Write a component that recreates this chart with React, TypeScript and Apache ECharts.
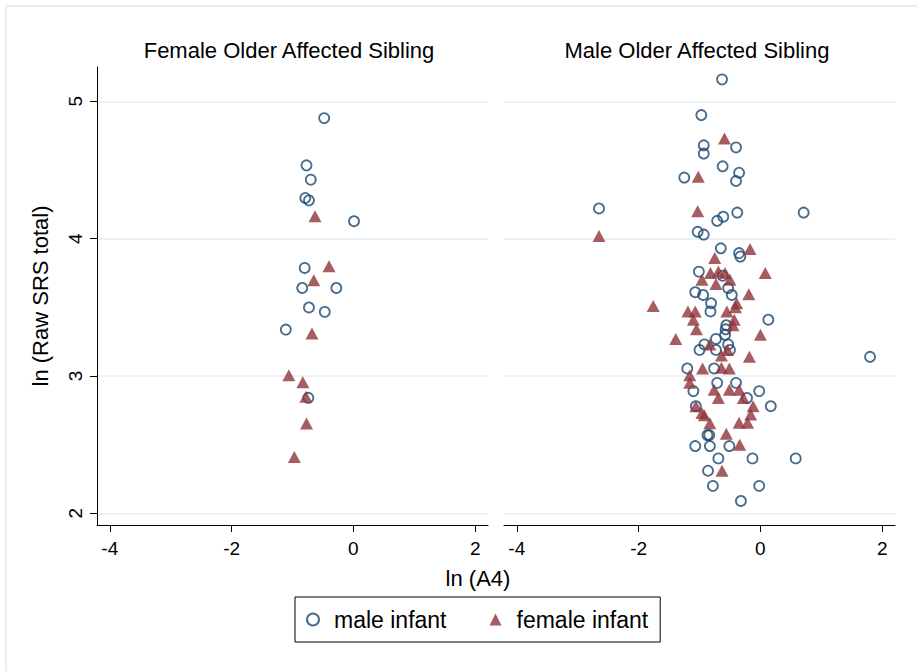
import React, { useEffect, useRef } from 'react';
import * as echarts from 'echarts';

const xTicks = [-4, -2, 0, 2];
const yTicks = [2, 3, 4, 5];
const panelTitles = ['Female Older Affected Sibling', 'Male Older Affected Sibling'];
const seriesNames = ['male infant', 'female infant'];
const xTitle = 'ln (A4)';
const yTitle = 'ln (Raw SRS total)';

// Left panel: Female Older Affected Sibling
const leftMaleX = [-0.48, -0.77, -0.70, -0.79, -0.73, 0.01, -0.80, -0.84, -0.28, -0.73, -0.47, -1.11, -0.74];
const leftMaleY = [4.878, 4.534, 4.43, 4.296, 4.279, 4.127, 3.787, 3.641, 3.641, 3.499, 3.467, 3.338, 2.841];
const leftFemaleX = [-0.63, -0.40, -0.65, -0.68, -1.06, -0.83, -0.78, -0.77, -0.97];
const leftFemaleY = [4.163, 3.799, 3.697, 3.309, 3.006, 2.955, 2.848, 2.654, 2.411];

// Right panel: Male Older Affected Sibling
const rightMaleX = [
  -0.63, -0.97, -0.93, -0.93, -0.40, -0.62, -0.35, -0.40, -1.25, -2.65,
  -0.71, -0.61, -0.38, 0.71, -1.03, -0.93, -0.65, -0.35, -0.33, -1.01,
  -0.62, -1.07, -0.94, -0.53, -0.47, -0.81, -0.82, 0.13, -0.56, -0.57,
  -0.58, -0.73, -0.92, -0.53, -1.00, -0.73, -0.50, 1.80, -1.20, -0.76,
  -0.71, -0.40, -1.10, -0.02, -0.22, -1.06, 0.17, -0.87, -0.84, -1.07,
  -0.83, -0.51, -0.69, -0.13, 0.58, -0.86, -0.78, -0.02, -0.32,
];
const rightMaleY = [
  5.16, 4.90, 4.68, 4.62, 4.665, 4.527, 4.48, 4.42, 4.445, 4.22,
  4.13, 4.16, 4.19, 4.19, 4.05, 4.03, 3.93, 3.895, 3.87, 3.76,
  3.73, 3.61, 3.59, 3.64, 3.59, 3.53, 3.47, 3.41, 3.37, 3.34,
  3.30, 3.27, 3.23, 3.23, 3.19, 3.19, 3.19, 3.14, 3.055, 3.055,
  2.95, 2.95, 2.89, 2.89, 2.84, 2.78, 2.78, 2.57, 2.57, 2.49,
  2.49, 2.49, 2.40, 2.40, 2.40, 2.31, 2.20, 2.20, 2.09,
];
const rightFemaleX = [
  -0.59, -1.02, -1.03, -2.65, -0.17, -0.75, 0.08, -0.82, -0.69, -0.58,
  -0.96, -0.50, -0.73, -0.19, -1.76, -1.19, -1.07, -0.39, -0.41, -0.55,
  -1.10, -0.43, -0.45, -1.05, -1.39, 0.00, -0.83, -0.54, -0.64, -0.18,
  -0.95, -0.64, -0.51, -1.16, -1.16, -0.76, -0.51, -0.35, -0.69, -0.28,
  -1.06, -0.12, -0.96, -0.92, -0.16, -0.83, -0.35, -0.21, -0.56, -0.34,
  -0.63,
];
const rightFemaleY = [
  4.73, 4.45, 4.20, 4.02, 3.925, 3.86, 3.75, 3.75, 3.76, 3.75,
  3.70, 3.70, 3.67, 3.595, 3.51, 3.47, 3.47, 3.53, 3.50, 3.47,
  3.41, 3.41, 3.37, 3.34, 3.27, 3.30, 3.23, 3.19, 3.15, 3.14,
  3.055, 3.06, 3.055, 3.005, 2.95, 2.90, 2.90, 2.90, 2.84, 2.84,
  2.78, 2.78, 2.73, 2.715, 2.72, 2.655, 2.66, 2.66, 2.58, 2.50,
  2.31,
];

const zip = (xs: number[], ys: number[]) => xs.map((x, i) => [x, ys[i]]);

const FONT = 'Liberation Sans, Arial, Helvetica, sans-serif';
const NAVY = '#1A476F';
const MAROON = '#90353B';
const GRID_COLOR = '#E6EEF0';

export default function App() {
  const ref = useRef<HTMLDivElement>(null);

  useEffect(() => {
    if (!ref.current) return;
    const chart = echarts.init(ref.current, null, { renderer: 'svg' });

    const grids = [
      { left: 97, top: 67, width: 391, height: 458 },
      { left: 504, top: 67, width: 391, height: 458 },
    ];

    const xAxes = grids.map((_, i) => ({
      type: 'value',
      gridIndex: i,
      min: -4.21,
      max: 2.21,
      axisLine: { show: true, onZero: false, lineStyle: { color: '#000', width: 1 } },
      axisTick: { show: true, length: 7, customValues: xTicks, lineStyle: { color: '#000' } },
      axisLabel: { customValues: xTicks, fontSize: 19, color: '#000', fontFamily: FONT, margin: 14 },
      splitLine: { show: false },
    }));

    const yAxes = grids.map((_, i) => ({
      type: 'value',
      gridIndex: i,
      min: 1.915,
      max: 5.25,
      name: i === 0 ? yTitle : '',
      nameLocation: 'middle',
      nameGap: 46,
      nameTextStyle: { fontSize: 22, color: '#000', fontFamily: FONT },
      axisLine: { show: i === 0, onZero: false, lineStyle: { color: '#000', width: 1 } },
      axisTick: { show: i === 0, length: 7, customValues: yTicks, lineStyle: { color: '#000' } },
      axisLabel: {
        show: i === 0,
        customValues: yTicks,
        rotate: 90,
        fontSize: 19,
        color: '#000',
        fontFamily: FONT,
        margin: 12,
      },
      splitLine: { show: true, lineStyle: { color: GRID_COLOR, width: 1.5 } },
    }));

    const maleStyle = {
      symbol: 'circle',
      symbolSize: 10,
      itemStyle: { color: 'rgba(255,255,255,0)', borderColor: NAVY, borderWidth: 1.8 },
    };
    const femaleStyle = {
      symbol: 'triangle',
      symbolSize: [13, 12],
      itemStyle: { color: MAROON },
    };

    const series = [
      { type: 'scatter', name: seriesNames[0], xAxisIndex: 0, yAxisIndex: 0, data: zip(leftMaleX, leftMaleY), ...maleStyle, emphasis: { disabled: true } },
      { type: 'scatter', name: seriesNames[0], xAxisIndex: 1, yAxisIndex: 1, data: zip(rightMaleX, rightMaleY), ...maleStyle, emphasis: { disabled: true } },
      { type: 'scatter', name: seriesNames[1], xAxisIndex: 0, yAxisIndex: 0, data: zip(leftFemaleX, leftFemaleY), ...femaleStyle, emphasis: { disabled: true } },
      { type: 'scatter', name: seriesNames[1], xAxisIndex: 1, yAxisIndex: 1, data: zip(rightFemaleX, rightFemaleY), ...femaleStyle, emphasis: { disabled: true } },
    ];

    chart.setOption({
      animation: false,
      backgroundColor: '#fff',
      textStyle: { fontFamily: FONT },
      grid: grids,
      xAxis: xAxes,
      yAxis: yAxes,
      series,
      legend: {
        data: seriesNames,
        left: 295,
        top: 597,
        orient: 'horizontal',
        borderColor: '#000',
        borderWidth: 1,
        padding: [11, 12, 11, 11],
        itemGap: 43,
        itemWidth: 12,
        itemHeight: 12,
        selectedMode: false,
        textStyle: { fontSize: 23, color: '#000', fontFamily: FONT, padding: [0, 0, 0, 10] },
      },
      graphic: [
        {
          type: 'rect',
          silent: true,
          shape: { x: 6, y: 6, width: 1000, height: 1000 },
          style: { fill: 'none', stroke: '#E6EEF0', lineWidth: 2 },
        },
        {
          type: 'text',
          silent: true,
          x: 289,
          y: 50,
          style: { text: panelTitles[0], fontSize: 22, fontFamily: FONT, fill: '#000', align: 'center', verticalAlign: 'middle' },
        },
        {
          type: 'text',
          silent: true,
          x: 697,
          y: 50,
          style: { text: panelTitles[1], fontSize: 22, fontFamily: FONT, fill: '#000', align: 'center', verticalAlign: 'middle' },
        },
        {
          type: 'text',
          silent: true,
          x: 478,
          y: 578,
          style: { text: xTitle, fontSize: 22, fontFamily: FONT, fill: '#000', align: 'center', verticalAlign: 'middle' },
        },
      ],
    });

    return () => chart.dispose();
  }, []);

  return (
    <div
      ref={ref}
      style={{ position: 'absolute', left: 0, top: 0, width: 917, height: 671, background: '#fff' }}
    />
  );
}
